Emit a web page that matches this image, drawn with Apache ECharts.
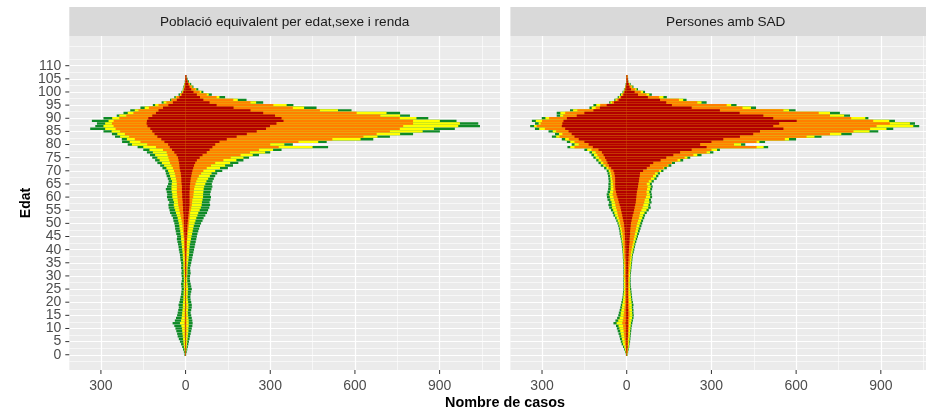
<!DOCTYPE html>
<html>
<head>
<meta charset="utf-8">
<title>Piràmide SAD</title>
<script src="https://cdn.jsdelivr.net/npm/echarts@6/dist/echarts.min.js"></script>
<style>
  html, body { margin: 0; padding: 0; background: #fff; }
  #chart { width: 926px; height: 412px; }
</style>
</head>
<body>
<div id="chart"></div>
<script>
// edats 0..106 (una barra per edat)
const ages = Array.from({ length: 107 }, (_, i) => i);

const xTicks = [-300, 0, 300, 600, 900];
const xMinor = [-150, 150, 450, 750, 1050];
const yTicks = [0, 5, 10, 15, 20, 25, 30, 35, 40, 45, 50, 55, 60, 65, 70, 75, 80, 85, 90, 95, 100, 105, 110];
const yLabelsA = [0, 10, 20, 30, 40, 50, 60, 70, 80, 90, 100, 110];
const yLabelsB = [5, 15, 25, 35, 45, 55, 65, 75, 85, 95, 105];
const yMinor = [-2.5, 2.5, 7.5, 12.5, 17.5, 22.5, 27.5, 32.5, 37.5, 42.5, 47.5, 52.5, 57.5, 62.5, 67.5, 72.5, 77.5, 82.5, 87.5, 92.5, 97.5, 102.5, 107.5, 112.5, 117.5];

const panelTitles = ['Població equivalent per edat,sexe i renda', 'Persones amb SAD'];

// valors acumulats per tram de renda (vermell < taronja < groc < verd), per edat
// --- Població equivalent, homes (esquerra)
const pobHomesR = [
  1, 1, 1, 1, 1, 1, 1, 1, 1, 1,
  1, 1, 1, 1, 1, 1, 1, 1, 1, 1,
  1, 1, 1, 1, 1, 1, 1, 1, 1, 1,
  2, 2, 2, 2, 2, 2, 2, 2, 2, 2,
  3, 3, 3, 3, 3, 4, 4, 5, 5, 5,
  6, 6, 7, 7, 8, 9, 9, 10, 10, 11,
  12, 12, 13, 13, 13, 14, 15, 15, 16, 17,
  19, 21, 22, 23, 25, 27, 32, 40, 48, 56,
  62, 75, 86, 100, 110, 118, 125, 135, 138, 137,
  132, 118, 105, 96, 80, 61, 45, 31, 22, 14,
  8, 5, 3, 2, 1, 1, 1];
const pobHomesO = [
  1, 1, 1, 2, 2, 2, 2, 3, 3, 3,
  3, 3, 4, 3, 3, 3, 3, 3, 2, 2,
  2, 2, 2, 2, 2, 2, 2, 2, 2, 2,
  2, 2, 3, 3, 3, 3, 3, 3, 4, 4,
  4, 5, 5, 6, 6, 7, 8, 9, 10, 11,
  12, 14, 16, 18, 20, 22, 24, 26, 27, 28,
  29, 30, 31, 31, 31, 31, 32, 34, 36, 38,
  41, 45, 50, 55, 58, 61, 64, 67, 80, 105,
  136, 160, 180, 200, 215, 232, 248, 255, 261, 255,
  235, 210, 185, 167, 130, 96, 68, 49, 32, 18,
  10, 6, 4, 3, 2, 1, 1];
const pobHomesY = [
  2, 3, 4, 6, 7, 8, 9, 10, 11, 12,
  13, 15, 20, 16, 14, 13, 12, 11, 10, 10,
  9, 8, 8, 7, 7, 6, 7, 7, 6, 6,
  7, 7, 7, 8, 8, 8, 9, 10, 10, 11,
  12, 13, 14, 15, 16, 16, 18, 19, 21, 22,
  24, 26, 28, 31, 34, 37, 40, 42, 41, 44,
  47, 47, 49, 50, 50, 49, 48, 52, 55, 58,
  62, 68, 76, 84, 92, 100, 108, 116, 128, 150,
  190, 198, 208, 232, 242, 262, 285, 291, 285, 273,
  260, 235, 205, 180, 145, 108, 78, 50, 35, 20,
  12, 8, 6, 4, 2, 1, 1];
const pobHomesG = [
  4, 6, 9, 12, 16, 20, 24, 28, 30, 33,
  36, 40, 46, 38, 34, 30, 28, 26, 24, 25,
  22, 20, 18, 16, 15, 14, 15, 16, 14, 13,
  14, 15, 14, 16, 15, 16, 18, 19, 20, 22,
  24, 25, 27, 29, 31, 30, 33, 35, 37, 38,
  40, 43, 45, 50, 55, 57, 60, 61, 58, 63,
  66, 65, 67, 70, 66, 62, 60, 63, 67, 70,
  72, 82, 90, 100, 108, 118, 126, 137, 150, 170,
  205, 225, 226, 250, 261, 291, 338, 320, 314, 332,
  291, 244, 220, 196, 160, 116, 85, 55, 40, 25,
  15, 10, 8, 5, 3, 2, 1];

// --- Població equivalent, dones (dreta)
const pobDonesR = [
  1, 1, 1, 1, 1, 1, 1, 1, 1, 1,
  1, 1, 1, 1, 1, 1, 1, 1, 1, 1,
  1, 1, 1, 1, 1, 1, 1, 1, 1, 1,
  2, 2, 2, 2, 2, 2, 2, 2, 2, 2,
  3, 3, 3, 3, 4, 4, 5, 5, 6, 6,
  7, 8, 9, 10, 11, 12, 13, 14, 14, 14,
  14, 14, 14, 15, 15, 16, 17, 18, 20, 22,
  24, 27, 30, 34, 40, 50, 60, 75, 85, 95,
  105, 120, 146, 181, 217, 252, 285, 299, 322, 347,
  340, 317, 275, 230, 170, 110, 85, 63, 51, 40,
  28, 20, 14, 10, 7, 4, 3];
const pobDonesO = [
  1, 1, 1, 2, 2, 2, 2, 2, 3, 3,
  3, 3, 3, 3, 3, 3, 2, 2, 3, 3,
  2, 2, 2, 2, 2, 2, 2, 2, 2, 2,
  3, 3, 3, 3, 3, 3, 3, 4, 4, 4,
  4, 5, 5, 5, 6, 7, 8, 9, 10, 11,
  12, 13, 14, 15, 16, 18, 20, 22, 23, 24,
  27, 28, 29, 30, 32, 35, 38, 42, 47, 55,
  63, 75, 90, 105, 134, 160, 195, 228, 260, 330,
  300, 400, 520, 630, 677, 724, 759, 771, 806, 806,
  759, 690, 606, 476, 380, 311, 230, 169, 110, 75,
  50, 35, 22, 14, 8, 4, 2];
const pobDonesY = [
  1, 2, 3, 4, 5, 6, 7, 8, 9, 10,
  10, 11, 11, 11, 10, 9, 8, 9, 10, 10,
  9, 8, 7, 8, 8, 9, 8, 7, 6, 6,
  6, 7, 7, 7, 8, 9, 10, 11, 12, 13,
  13, 14, 15, 17, 19, 21, 23, 25, 27, 29,
  32, 35, 38, 42, 45, 50, 54, 57, 58, 60,
  62, 62, 63, 64, 66, 70, 74, 80, 86, 92,
  105, 122, 140, 158, 180, 205, 238, 282, 310, 450,
  350, 470, 620, 680, 760, 840, 880, 966, 972, 901,
  818, 760, 712, 540, 420, 358, 250, 185, 120, 82,
  56, 38, 24, 16, 9, 5, 2];
const pobDonesG = [
  2, 4, 6, 8, 10, 12, 14, 16, 18, 20,
  22, 24, 25, 24, 22, 20, 18, 20, 22, 22,
  20, 18, 17, 18, 20, 22, 20, 18, 16, 15,
  16, 18, 17, 16, 18, 20, 22, 24, 26, 28,
  30, 32, 34, 36, 38, 40, 42, 45, 48, 51,
  55, 60, 64, 70, 76, 80, 84, 87, 85, 88,
  90, 87, 89, 92, 95, 93, 96, 100, 105, 112,
  130, 150, 168, 187, 205, 225, 260, 300, 340, 505,
  380, 500, 665, 724, 806, 901, 954, 1043, 1037, 960,
  860, 795, 760, 588, 464, 382, 275, 216, 140, 93,
  63, 45, 28, 20, 12, 7, 3];

// --- Persones amb SAD, homes (esquerra)
const sadHomesR = [
  1, 1, 2, 2, 2, 2, 3, 3, 3, 3,
  3, 3, 4, 3, 3, 3, 3, 3, 3, 2,
  2, 2, 2, 2, 2, 2, 2, 2, 2, 3,
  3, 3, 3, 3, 3, 3, 3, 4, 4, 4,
  4, 5, 5, 5, 6, 6, 7, 7, 8, 9,
  10, 12, 14, 16, 18, 20, 22, 25, 28, 30,
  33, 36, 38, 40, 41, 41, 41, 41, 42, 44,
  47, 55, 63, 68, 72, 77, 82, 88, 100, 120,
  135, 150, 170, 185, 195, 206, 218, 230, 228, 224,
  212, 177, 150, 118, 95, 71, 45, 29, 20, 12,
  8, 5, 3, 2, 1, 1, 1];
const sadHomesO = [
  1, 2, 3, 4, 6, 7, 8, 9, 10, 11,
  12, 13, 16, 14, 12, 11, 10, 9, 8, 7,
  7, 6, 6, 6, 6, 6, 6, 6, 6, 7,
  8, 7, 7, 7, 7, 8, 8, 9, 9, 10,
  10, 11, 12, 12, 13, 14, 15, 17, 18, 21,
  23, 25, 28, 31, 33, 35, 38, 40, 42, 45,
  47, 50, 48, 47, 48, 49, 50, 52, 53, 55,
  58, 65, 75, 83, 90, 98, 104, 110, 125, 185,
  170, 185, 205, 238, 228, 250, 290, 319, 305, 300,
  275, 225, 218, 175, 110, 94, 52, 36, 24, 16,
  10, 6, 4, 2, 1, 1, 1];
const sadHomesY = [
  2, 4, 6, 9, 13, 15, 17, 19, 21, 23,
  26, 29, 36, 30, 25, 22, 21, 19, 17, 16,
  14, 13, 12, 11, 10, 10, 10, 10, 10, 10,
  11, 10, 10, 10, 10, 11, 11, 12, 12, 13,
  14, 14, 15, 16, 18, 19, 21, 22, 24, 26,
  29, 32, 36, 41, 44, 48, 52, 53, 54, 58,
  60, 62, 59, 57, 57, 57, 57, 58, 59, 61,
  64, 72, 83, 92, 100, 110, 116, 123, 140, 200,
  185, 200, 218, 250, 240, 262, 310, 328, 312, 322,
  288, 236, 235, 190, 124, 108, 58, 40, 28, 20,
  12, 8, 5, 3, 2, 1, 1];
const sadHomesG = [
  3, 6, 9, 13, 18, 21, 24, 26, 29, 32,
  35, 38, 47, 40, 34, 30, 28, 25, 23, 21,
  19, 17, 15, 14, 13, 12, 12, 12, 12, 12,
  12, 12, 12, 12, 12, 13, 13, 14, 14, 15,
  16, 17, 18, 19, 21, 23, 25, 26, 28, 30,
  33, 37, 41, 47, 50, 56, 62, 65, 63, 68,
  70, 71, 68, 66, 65, 65, 64, 65, 66, 68,
  71, 80, 92, 100, 108, 118, 125, 132, 150, 210,
  195, 212, 230, 265, 254, 277, 325, 342, 325, 336,
  301, 248, 248, 201, 132, 118, 62, 44, 32, 24,
  15, 10, 6, 4, 2, 1, 1];

// --- Persones amb SAD, dones (dreta)
const sadDonesR = [
  1, 2, 2, 3, 3, 3, 3, 4, 4, 4,
  4, 4, 4, 4, 5, 5, 5, 5, 4, 4,
  4, 4, 4, 4, 4, 4, 4, 4, 4, 4,
  4, 4, 5, 5, 5, 5, 6, 6, 7, 7,
  8, 8, 9, 10, 10, 11, 12, 12, 13, 14,
  15, 17, 19, 21, 24, 26, 28, 30, 32, 33,
  34, 35, 36, 38, 40, 41, 43, 44, 46, 47,
  58, 71, 82, 94, 120, 140, 165, 189, 230, 283,
  260, 300, 342, 401, 448, 472, 555, 519, 540, 602,
  519, 484, 400, 330, 230, 160, 140, 118, 75, 40,
  28, 15, 10, 7, 4, 3, 2];
const sadDonesO = [
  1, 2, 3, 4, 4, 5, 5, 6, 6, 7,
  7, 8, 8, 9, 9, 10, 10, 9, 9, 9,
  8, 8, 7, 7, 7, 7, 7, 7, 7, 7,
  8, 8, 9, 9, 10, 11, 12, 13, 14, 15,
  17, 19, 21, 23, 25, 27, 29, 31, 33, 35,
  37, 40, 43, 45, 47, 52, 56, 59, 62, 64,
  68, 71, 70, 72, 74, 71, 78, 86, 93, 100,
  115, 130, 145, 159, 180, 205, 236, 283, 300, 460,
  380, 460, 560, 637, 720, 803, 862, 885, 932, 873,
  795, 720, 680, 555, 410, 354, 250, 185, 115, 70,
  50, 30, 17, 9, 5, 4, 3];
const sadDonesY = [
  2, 4, 5, 7, 8, 9, 10, 11, 12, 12,
  13, 14, 15, 17, 19, 20, 19, 19, 18, 18,
  17, 16, 15, 14, 13, 12, 12, 11, 11, 11,
  12, 12, 13, 14, 15, 16, 17, 18, 19, 21,
  23, 25, 27, 29, 32, 35, 37, 40, 42, 45,
  48, 51, 55, 58, 63, 70, 76, 77, 80, 79,
  83, 82, 80, 83, 85, 82, 88, 98, 104, 110,
  122, 133, 148, 160, 190, 215, 250, 295, 320, 485,
  405, 470, 575, 665, 760, 860, 920, 1015, 1003, 930,
  845, 770, 720, 575, 440, 370, 265, 200, 130, 80,
  58, 35, 20, 11, 5, 4, 3];
const sadDonesG = [
  3, 5, 7, 9, 10, 12, 13, 14, 15, 16,
  17, 18, 20, 22, 24, 25, 24, 24, 23, 24,
  22, 20, 19, 18, 17, 16, 15, 14, 14, 14,
  14, 15, 16, 17, 18, 19, 20, 21, 22, 25,
  27, 29, 31, 34, 37, 40, 43, 46, 49, 52,
  55, 58, 62, 65, 71, 78, 85, 83, 88, 86,
  90, 89, 87, 90, 92, 89, 96, 106, 112, 118,
  130, 142, 158, 171, 200, 225, 265, 307, 330, 501,
  420, 490, 600, 690, 797, 891, 944, 1036, 1021, 950,
  856, 791, 755, 598, 458, 389, 283, 212, 142, 89,
  65, 40, 24, 14, 6, 5, 3];

const colors = { G: '#0e8a26', Y: '#ffff00', O: '#ff8000', R: '#b20000' };

const panels = [
  { G: [pobHomesG, pobDonesG], Y: [pobHomesY, pobDonesY], O: [pobHomesO, pobDonesO], R: [pobHomesR, pobDonesR] },
  { G: [sadHomesG, sadDonesG], Y: [sadHomesY, sadDonesY], O: [sadHomesO, sadDonesO], R: [sadHomesR, sadDonesR] }
];

const font = '"Liberation Sans", Arial, sans-serif';
// el panell dret queda tallat per la vora de la imatge
const gridLeft = [69.3, 510.4];
const gridW = [430.7, 415.6];
const xMax = [1114, 1060];
const xMin = -412;
const gridTop = 36, gridH = 334;
const yMin = -5.8, yMax = 121.3;
const TICK = 4;

function renderBar(params, api) {
  const age = api.value(0);
  const v = api.value(1);
  const p0 = api.coord([0, age]);
  const p1 = api.coord([v, age]);
  const h = api.size([0, 0.9])[1];
  return {
    type: 'rect',
    shape: { x: Math.min(p0[0], p1[0]), y: p0[1] - h / 2, width: Math.abs(p1[0] - p0[0]), height: h },
    style: { fill: api.visual('color') }
  };
}

// petites marques fora del panell, a la vora de l'eix
function renderYTick(params, api) {
  const p = api.coord([xMin, api.value(0)]);
  return { type: 'line', shape: { x1: p[0] - TICK, y1: p[1], x2: p[0], y2: p[1] }, style: { stroke: '#333333', lineWidth: 1 } };
}
function renderXTick(params, api) {
  const p = api.coord([api.value(0), yMin]);
  return { type: 'line', shape: { x1: p[0], y1: p[1], x2: p[0], y2: p[1] + TICK }, style: { stroke: '#333333', lineWidth: 1 } };
}

function gridAxis(p, opts) {
  return Object.assign({
    type: 'value', gridIndex: p,
    axisLine: { show: false, onZero: false },
    axisTick: { show: false },
    axisLabel: { show: false },
    splitLine: { show: false }
  }, opts);
}

const grids = [], xAxes = [], yAxes = [], series = [], graphics = [];
const labelText = { color: '#4d4d4d', fontSize: 14, fontFamily: font };

panels.forEach((panel, p) => {
  grids.push({
    left: gridLeft[p], top: gridTop, width: gridW[p], height: gridH,
    show: true, backgroundColor: '#ebebeb', borderWidth: 0
  });
  const xi = xAxes.length, yi = yAxes.length;
  // eix x: etiquetes i línies majors
  xAxes.push(gridAxis(p, {
    min: xMin, max: xMax[p], position: 'bottom',
    axisTick: { show: false, customValues: xTicks },
    axisLabel: Object.assign({
      customValues: xTicks, margin: 9, showMinLabel: true, showMaxLabel: true,
      formatter: v => String(Math.abs(v))
    }, labelText),
    splitLine: { show: true, lineStyle: { color: '#ffffff', width: 1.2 } }
  }));
  // línies menors x
  xAxes.push(gridAxis(p, {
    min: xMin, max: xMax[p], position: 'top',
    axisTick: { show: false, customValues: xMinor },
    axisLabel: { show: false, customValues: xMinor },
    splitLine: { show: true, lineStyle: { color: '#ffffff', width: 0.6 } }
  }));
  // eix y: etiquetes 0,10,...,110 i línies majors
  yAxes.push(gridAxis(p, {
    min: yMin, max: yMax, position: 'left',
    axisTick: { show: false, customValues: yTicks },
    axisLabel: Object.assign({ show: p === 0, customValues: yLabelsA, margin: 8, showMinLabel: true, showMaxLabel: true }, labelText),
    splitLine: { show: true, lineStyle: { color: '#ffffff', width: 1.2 } }
  }));
  // etiquetes 5,15,...,105
  yAxes.push(gridAxis(p, {
    min: yMin, max: yMax, position: 'left',
    axisTick: { show: false, customValues: yLabelsB },
    axisLabel: Object.assign({ show: p === 0, customValues: yLabelsB, margin: 8, showMinLabel: true, showMaxLabel: true }, labelText)
  }));
  // línies menors y
  yAxes.push(gridAxis(p, {
    min: yMin, max: yMax, position: 'right',
    axisTick: { show: false, customValues: yMinor },
    axisLabel: { show: false, customValues: yMinor },
    splitLine: { show: true, lineStyle: { color: '#ffffff', width: 0.6 } }
  }));

  ['G', 'Y', 'O', 'R'].forEach(k => {
    const [homes, dones] = panel[k];
    const data = ages.map(a => [a, -homes[a]]).concat(ages.map(a => [a, dones[a]]));
    series.push({
      type: 'custom', xAxisIndex: xi, yAxisIndex: yi,
      renderItem: renderBar, clip: true, silent: true,
      itemStyle: { color: colors[k] },
      encode: { x: 1, y: 0 },
      data: data
    });
  });

  series.push({
    type: 'custom', xAxisIndex: xi, yAxisIndex: yi, clip: false, silent: true, z: 5,
    renderItem: renderXTick, encode: { x: 0 }, data: xTicks.map(v => [v])
  });
  if (p === 0) {
    series.push({
      type: 'custom', xAxisIndex: xi, yAxisIndex: yi, clip: false, silent: true, z: 5,
      renderItem: renderYTick, encode: { y: 0 }, data: yTicks.map(v => [v])
    });
  }

  // capçalera del panell
  graphics.push({
    type: 'rect', silent: true,
    shape: { x: gridLeft[p], y: 7, width: 430.7, height: 29 },
    style: { fill: '#d9d9d9' }
  });
  graphics.push({
    type: 'text', silent: true,
    x: gridLeft[p] + 430.7 / 2, y: 22,
    style: {
      text: panelTitles[p], fill: '#1a1a1a', font: '13.6px ' + font,
      textAlign: 'center', textVerticalAlign: 'middle'
    }
  });
});

graphics.push({
  type: 'text', silent: true, x: 505, y: 403,
  style: { text: 'Nombre de casos', fill: '#000', font: 'bold 14.4px ' + font, textAlign: 'center', textVerticalAlign: 'middle' }
});
graphics.push({
  type: 'text', silent: true, x: 26, y: 203, rotation: Math.PI / 2,
  style: { text: 'Edat', fill: '#000', font: 'bold 14px ' + font, textAlign: 'center', textVerticalAlign: 'middle' }
});

const chart = echarts.init(document.getElementById('chart'), null, { renderer: 'canvas' });
chart.setOption({
  animation: false,
  backgroundColor: '#ffffff',
  grid: grids,
  xAxis: xAxes,
  yAxis: yAxes,
  series: series,
  graphic: graphics
});
</script>
</body>
</html>
